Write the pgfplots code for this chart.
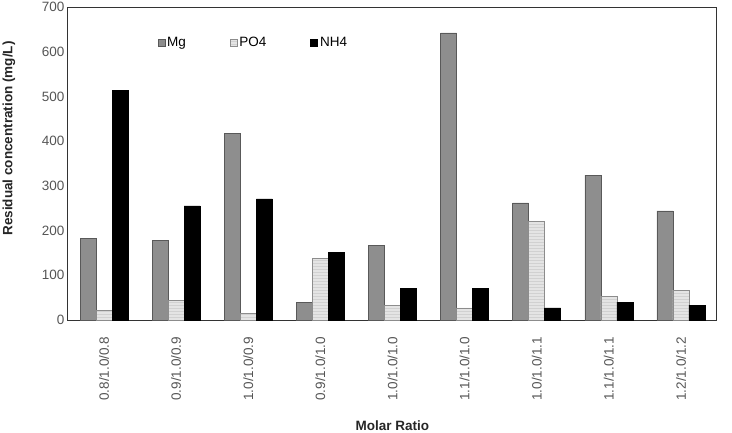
\documentclass[border=0pt]{standalone}
\usepackage{pgfplots}
\pgfplotsset{compat=1.18}
\usepackage{fontspec}
\setmainfont{Liberation Sans}
\usetikzlibrary{patterns}
\definecolor{mggray}{HTML}{8E8E8E}
\definecolor{pofill}{HTML}{E4E4E4}
\definecolor{ticktext}{HTML}{555555}
\begin{document}
\begin{tikzpicture}
\useasboundingbox (0,0) rectangle (732pt,432pt);
\begin{axis}[
  at={(68pt,112pt)}, anchor=south west,
  scale only axis, width=649pt, height=313pt,
  ybar=0pt, bar width=16pt,
  xmin=-0.5, xmax=8.5, ymin=0, ymax=700,
  xtick=data,
  xticklabels={0.8/1.0/0.8,0.9/1.0/0.9,1.0/1.0/0.9,0.9/1.0/1.0,1.0/1.0/1.0,1.1/1.0/1.0,1.0/1.0/1.1,1.1/1.0/1.1,1.2/1.0/1.2},
  x tick label style={rotate=90, anchor=east, font=\fontsize{13.5}{14}\selectfont, text=ticktext, xshift=-9pt},
  ytick={0,100,...,700},
  y tick label style={font=\fontsize{13.5}{14}\selectfont, text=ticktext},
  /pgf/number format/assume math mode=true,
  major x tick style={draw=none},
  major y tick style={draw=none},
  axis line style={draw=black!80, line width=1pt},
  xlabel={\textbf{Molar Ratio}},
  xlabel style={font=\fontsize{13.5}{14}\selectfont, text=black!85, at={(rel axis cs:0.5,0)}, anchor=north, yshift=-97pt},
  ylabel={\textbf{Residual concentration (mg/L)}},
  ylabel style={font=\fontsize{13.5}{14}\selectfont, text=black!85, at={(axis description cs:-0.076,0.58)}, anchor=south},
  legend style={draw=none, fill=none, at={(rel axis cs:0.133,0.885)}, anchor=west, font=\fontsize{13.5}{14}\selectfont, legend columns=3, /tikz/every even column/.append style={column sep=42pt}},
  legend image code/.code={\draw[#1] (0pt,-3.5pt) rectangle (7pt,3.5pt);},
  clip=false,
]
\addplot[fill=mggray, draw=black!65, line width=0.6pt] coordinates {(0,182) (1,178) (2,418) (3,40) (4,167) (5,642) (6,262) (7,324) (8,244)};
\addplot[fill=pofill, draw=black!45, line width=0.6pt, postaction={pattern=horizontal lines, pattern color=black!18}] coordinates {(0,22) (1,44) (2,15) (3,138) (4,33) (5,27) (6,220) (7,53) (8,67)};
\addplot[fill=black, draw=black, line width=0.6pt] coordinates {(0,513) (1,255) (2,271) (3,151) (4,71) (5,71) (6,27) (7,40) (8,33)};
\legend{Mg,PO4,NH4}
\end{axis}
\end{tikzpicture}
\end{document}
